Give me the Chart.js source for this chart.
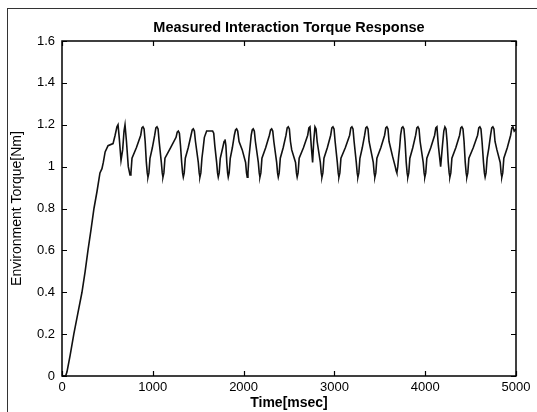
<!DOCTYPE html>
<html>
<head>
<meta charset="utf-8">
<title>Measured Interaction Torque Response</title>
<script src="https://cdn.jsdelivr.net/npm/chart.js@4.4.1/dist/chart.umd.min.js"></script>
<style>
  html, body { margin: 0; padding: 0; background: #fff; }
  #wrap { position: relative; width: 537px; height: 412px; }
  /* scanned figure frame on the left and top */
  #frame { position: absolute; left: 7px; top: 8px; right: 0; bottom: 0;
           border-left: 1px solid #333; border-top: 1px solid #333; pointer-events: none; }
</style>
</head>
<body>
<div id="wrap">
  <canvas id="torqueChart" width="537" height="412"></canvas>
  <div id="frame"></div>
</div>
<script>
// Sample times (msec)
const timeMs = [
  0, 40, 55, 90, 130, 175, 220, 255, 286, 320, 352, 385, 418, 440, 455, 475, 507, 562, 585, 605, 617, 630, 650, 668, 683, 694, 710, 730,
  749, 759, 771, 819, 867, 880, 892, 904, 916, 929, 939,
  947, 957, 969, 995, 1021, 1034, 1046, 1058, 1070, 1094, 1104,
  1112, 1122, 1134, 1195, 1256, 1269, 1281, 1293, 1305, 1318, 1328,
  1336, 1346, 1358, 1390, 1421, 1434, 1446, 1458, 1470, 1501, 1511,
  1519, 1529, 1541, 1555, 1568, 1593, 1659, 1671, 1683, 1703, 1713,
  1721, 1731, 1743, 1770, 1785, 1795, 1805, 1815, 1824,
  1831, 1841, 1853, 1876, 1898, 1911, 1923, 1935, 1950, 1985, 2022, 2032,
  2040, 2048, 2058, 2070, 2084, 2095, 2106, 2118, 2130, 2162, 2172,
  2180, 2190, 2202, 2243, 2284, 2297, 2309, 2321, 2333, 2364, 2374,
  2382, 2392, 2404, 2436, 2467, 2480, 2492, 2504, 2516, 2530, 2572, 2582,
  2590, 2600, 2612, 2659, 2706, 2719, 2731, 2745, 2760, 2772, 2786, 2798, 2810, 2845, 2855,
  2863, 2873, 2885, 2922, 2959, 2972, 2984, 2996, 3008, 3032, 3042,
  3050, 3060, 3072, 3120, 3168, 3181, 3193, 3205, 3217, 3241, 3251,
  3259, 3269, 3281, 3307, 3333, 3346, 3358, 3370, 3382, 3410, 3428, 3438,
  3446, 3456, 3468, 3511, 3553, 3566, 3578, 3590, 3602, 3640, 3670, 3680,
  3688, 3698, 3708, 3718, 3729, 3742, 3754, 3766, 3778, 3791, 3801,
  3809, 3819, 3831, 3863, 3895, 3908, 3920, 3932, 3944, 3978, 3988,
  3996, 4006, 4018, 4061, 4104, 4117, 4129, 4145, 4170, 4190, 4205, 4217, 4229, 4241, 4254, 4264,
  4272, 4282, 4294, 4337, 4379, 4392, 4404, 4416, 4428, 4441, 4451,
  4459, 4469, 4481, 4529, 4577, 4590, 4602, 4614, 4626, 4642, 4652,
  4660, 4670, 4682, 4701, 4720, 4733, 4745, 4757, 4769, 4790, 4826, 4836,
  4844, 4854, 4866, 4904, 4941, 4954, 4966, 4980, 5000
];

// Environment torque (Nm) at those times
const torqueNm = [
  0, 0, 0.02, 0.1, 0.2, 0.3, 0.4, 0.5, 0.6, 0.7, 0.8, 0.88, 0.97, 0.99, 1.02, 1.07, 1.1, 1.11, 1.15, 1.19, 1.2, 1.14, 1.03, 1.08, 1.17, 1.2, 1.12, 1.0,
  0.96, 0.97, 1.04, 1.09, 1.15, 1.185, 1.19, 1.18, 1.12, 1.02, 0.97,
  0.95, 0.97, 1.04, 1.09, 1.15, 1.185, 1.19, 1.18, 1.12, 1.02, 0.97,
  0.95, 0.97, 1.04, 1.09, 1.14, 1.165, 1.17, 1.16, 1.1, 1.02, 0.97,
  0.95, 0.97, 1.04, 1.09, 1.15, 1.175, 1.18, 1.17, 1.12, 1.02, 0.97,
  0.95, 0.97, 1.04, 1.09, 1.14, 1.17, 1.17, 1.16, 1.1, 1.02, 0.97,
  0.95, 0.97, 1.04, 1.09, 1.12, 1.13, 1.1, 1.02, 0.97,
  0.95, 0.97, 1.04, 1.09, 1.15, 1.175, 1.18, 1.17, 1.12, 1.08, 1.02, 0.97,
  0.95, 0.97, 1.04, 1.09, 1.15, 1.175, 1.18, 1.17, 1.12, 1.02, 0.97,
  0.95, 0.97, 1.04, 1.09, 1.15, 1.175, 1.18, 1.17, 1.12, 1.02, 0.97,
  0.95, 0.97, 1.04, 1.09, 1.15, 1.185, 1.19, 1.18, 1.12, 1.08, 1.02, 0.97,
  0.95, 0.97, 1.04, 1.09, 1.15, 1.185, 1.19, 1.1, 1.02, 1.12, 1.19, 1.18, 1.12, 1.02, 0.97,
  0.95, 0.97, 1.04, 1.09, 1.15, 1.185, 1.19, 1.18, 1.12, 1.02, 0.97,
  0.95, 0.97, 1.04, 1.09, 1.15, 1.185, 1.19, 1.18, 1.12, 1.02, 0.97,
  0.95, 0.97, 1.04, 1.09, 1.15, 1.185, 1.19, 1.18, 1.12, 1.06, 1.02, 0.97,
  0.95, 0.97, 1.04, 1.09, 1.15, 1.185, 1.19, 1.18, 1.12, 1.05, 1.0, 0.98,
  0.97, 1.0, 1.05, 1.09, 1.15, 1.185, 1.19, 1.18, 1.12, 1.02, 0.97,
  0.95, 0.97, 1.04, 1.09, 1.15, 1.185, 1.19, 1.18, 1.12, 1.02, 0.97,
  0.95, 0.97, 1.04, 1.09, 1.15, 1.185, 1.19, 1.1, 1.0, 1.1, 1.17, 1.19, 1.18, 1.12, 1.02, 0.97,
  0.95, 0.97, 1.04, 1.09, 1.15, 1.185, 1.19, 1.18, 1.12, 1.02, 0.97,
  0.95, 0.97, 1.04, 1.09, 1.15, 1.185, 1.19, 1.18, 1.12, 1.02, 0.97,
  0.95, 0.97, 1.04, 1.09, 1.15, 1.185, 1.19, 1.18, 1.12, 1.08, 1.02, 0.97,
  0.95, 0.97, 1.04, 1.09, 1.15, 1.185, 1.19, 1.17, 1.18
];

// Axis tick labels
const xTickLabels = ['0', '1000', '2000', '3000', '4000', '5000'];
const yTickLabels = ['0', '0.2', '0.4', '0.6', '0.8', '1', '1.2', '1.4', '1.6'];

const fontFamily = "'Liberation Sans', Arial, Helvetica, sans-serif";

// Draws the full box and the inward tick marks (matlab style)
const boxPlugin = {
  id: 'matlabBox',
  afterDatasetsDraw(chart) {
    const { ctx, chartArea: a, scales: { x, y } } = chart;
    const len = 5;
    ctx.save();
    ctx.strokeStyle = '#000';
    ctx.lineWidth = 1.5;
    ctx.strokeRect(a.left, a.top, a.right - a.left, a.bottom - a.top);
    ctx.lineWidth = 1.2;
    ctx.beginPath();
    x.ticks.forEach(t => {
      const px = Math.round(x.getPixelForValue(t.value)) + 0.5;
      ctx.moveTo(px, a.bottom); ctx.lineTo(px, a.bottom - len);
      ctx.moveTo(px, a.top); ctx.lineTo(px, a.top + len);
    });
    y.ticks.forEach(t => {
      const py = Math.round(y.getPixelForValue(t.value)) + 0.5;
      ctx.moveTo(a.left, py); ctx.lineTo(a.left + len, py);
      ctx.moveTo(a.right, py); ctx.lineTo(a.right - len, py);
    });
    ctx.stroke();
    ctx.restore();
  }
};

const points = timeMs.map((t, i) => ({ x: t, y: torqueNm[i] }));

new Chart(document.getElementById('torqueChart'), {
  type: 'line',
  data: {
    datasets: [{
      label: 'Environment Torque',
      data: points,
      borderColor: '#111',
      borderWidth: 1.6,
      pointRadius: 0,
      tension: 0,
      fill: false
    }]
  },
  options: {
    responsive: false,
    animation: false,
    devicePixelRatio: 1,
    layout: { padding: { left: 0, right: 21, top: 0, bottom: 0 } },
    plugins: {
      legend: { display: false },
      tooltip: { enabled: false },
      title: {
        display: true,
        fullSize: false,
        text: 'Measured Interaction Torque Response',
        color: '#000',
        font: { family: fontFamily, size: 14.5, weight: 'bold' },
        padding: { top: 19, bottom: 4.6 }
      }
    },
    scales: {
      x: {
        type: 'linear',
        min: 0,
        max: 5000,
        grid: { display: false, drawTicks: false },
        border: { display: false },
        ticks: {
          stepSize: 1000,
          padding: 4,
          maxRotation: 0,
          color: '#000',
          font: { family: fontFamily, size: 13 },
          callback: (v, i) => xTickLabels[i]
        },
        title: {
          display: true,
          text: 'Time[msec]',
          color: '#000',
          font: { family: fontFamily, size: 14, weight: 'bold' },
          padding: { top: 0, bottom: 0 }
        },
        afterFit: s => { s.height = 36; }
      },
      y: {
        min: 0,
        max: 1.6,
        grid: { display: false, drawTicks: false },
        border: { display: false },
        ticks: {
          stepSize: 0.2,
          padding: 7,
          color: '#000',
          font: { family: fontFamily, size: 13 },
          callback: (v, i) => yTickLabels[i]
        },
        title: {
          display: true,
          text: 'Environment Torque[Nm]',
          color: '#000',
          font: { family: fontFamily, size: 14 },
          padding: { top: 9, bottom: 0 }
        },
        afterFit: s => { s.width = 62; }
      }
    }
  },
  plugins: [boxPlugin]
});
</script>
</body>
</html>
